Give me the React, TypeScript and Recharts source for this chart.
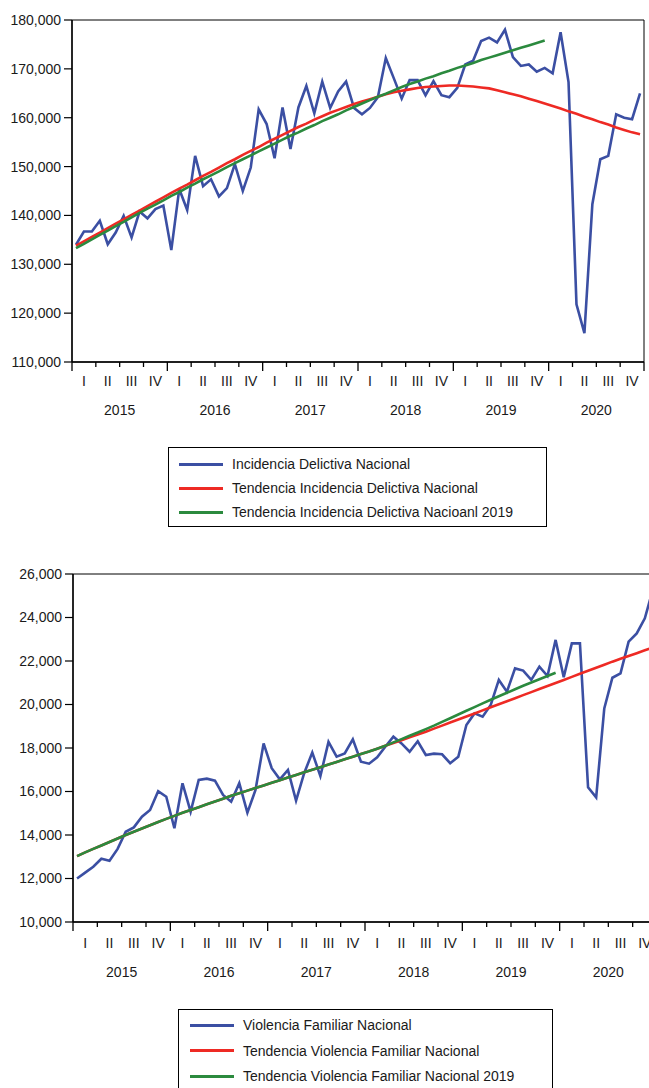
import { LineChart, Line, XAxis, YAxis, ReferenceArea, Legend } from "recharts";

const years = [2015, 2016, 2017, 2018, 2019, 2020];
const quarters = ["I", "II", "III", "IV"];

// Incidencia delictiva, monthly, Jan 2015 .. Dec 2020
const incidencia = [
    134000, 136700, 136700, 138900, 134100, 136500, 139900, 135500, 140800, 139400, 141300, 142000,
    132900, 145400, 141100, 152200, 146000, 147400, 143900, 145600, 150500, 145000, 149800, 161700,
    158700, 151700, 162100, 153600, 162100, 166500, 160900, 167400, 162000, 165400, 167400, 162000,
    160700, 162000, 164200, 172200, 168100, 163900, 167700, 167700, 164600, 167500, 164600, 164200,
    166100, 170900, 171700, 175700, 176400, 175400, 178000, 172400, 170600, 170900, 169400, 170200,
    169100, 177500, 167300, 121800, 115900, 142300, 151500, 152200, 160700, 160000, 159700, 165000,
];
const tendIncidencia = [
    133800, 134700, 135600, 136500, 137400, 138300, 139200, 140100, 141000, 141900, 142800, 143700,
    144600, 145500, 146300, 147200, 148100, 148900, 149800, 150700, 151500, 152400, 153200, 154000,
    154900, 155700, 156500, 157300, 158100, 158800, 159600, 160300, 161000, 161600, 162200, 162800,
    163300, 163800, 164300, 164800, 165200, 165500, 165800, 166100, 166300, 166400, 166500, 166600,
    166600, 166500, 166400, 166200, 166000, 165600, 165200, 164800, 164400, 163900, 163400, 162900,
    162400, 161900, 161300, 160800, 160200, 159700, 159100, 158600, 158000, 157500, 157000, 156600,
];
const tendIncidencia2019 = [
    133300, 134200, 135100, 136000, 136900, 137800, 138700, 139600, 140500, 141400, 142200, 143100,
    144000, 144800, 145700, 146500, 147400, 148200, 149000, 149900, 150700, 151500, 152300, 153100,
    153900, 154700, 155500, 156300, 157000, 157800, 158500, 159300, 160000, 160700, 161500, 162200,
    162900, 163600, 164300, 164900, 165600, 166300, 166900, 167400, 168000, 168500, 169100, 169600,
    170200, 170700, 171200, 171800, 172300, 172800, 173300, 173800, 174300, 174800, 175300, 175800,
];

// Violencia familiar, monthly, Jan 2015 .. Dec 2020
const violencia = [
    12000, 12270, 12540, 12910, 12820, 13360, 14150, 14350, 14840, 15150, 16010, 15760,
    14310, 16380, 15070, 16530, 16590, 16500, 15840, 15530, 16380, 15030, 16070, 18210,
    17070, 16560, 16990, 15580, 16840, 17790, 16710, 18280, 17600, 17750, 18400, 17370,
    17280, 17570, 18060, 18520, 18210, 17830, 18310, 17680, 17740, 17710, 17300, 17600,
    19060, 19590, 19440, 19980, 21130, 20590, 21660, 21560, 21130, 21740, 21310, 22970,
    21250, 22810, 22810, 16190, 15730, 19820, 21230, 21430, 22890, 23270, 23960, 25300,
];
const tendViolencia = [
    13030, 13200, 13360, 13520, 13680, 13840, 14000, 14150, 14300, 14450, 14600, 14740,
    14880, 15020, 15150, 15280, 15410, 15540, 15670, 15800, 15920, 16040, 16160, 16280,
    16400, 16520, 16640, 16760, 16880, 17000, 17120, 17240, 17360, 17480, 17600, 17720,
    17840, 17970, 18100, 18230, 18360, 18490, 18620, 18750, 18890, 19030, 19170, 19310,
    19450, 19590, 19730, 19870, 20010, 20150, 20290, 20430, 20570, 20710, 20850, 20990,
    21130, 21270, 21410, 21550, 21690, 21830, 21970, 22100, 22230, 22360, 22490, 22620,
];
const tendViolencia2019 = [
    13030, 13200, 13360, 13520, 13680, 13840, 14000, 14150, 14300, 14450, 14600, 14740,
    14880, 15020, 15150, 15280, 15410, 15540, 15670, 15800, 15920, 16040, 16160, 16280,
    16400, 16520, 16640, 16760, 16880, 17000, 17120, 17240, 17360, 17480, 17600, 17720,
    17840, 17970, 18100, 18260, 18410, 18560, 18710, 18870, 19030, 19200, 19370, 19540,
    19710, 19880, 20050, 20220, 20380, 20540, 20700, 20860, 21010, 21160, 21310, 21460,
];

const incidenciaTicks = [110000, 120000, 130000, 140000, 150000, 160000, 170000, 180000];
const violenciaTicks = [10000, 12000, 14000, 16000, 18000, 20000, 22000, 24000, 26000];
// half-quarter steps: boundaries get tick marks, mid-points get the quarter label
const periodTicks = Array.from({ length: 49 }, (_, k) => k * 1.5);

const BLUE = "#3b4fa3";
const RED = "#ee2a24";
const GREEN = "#2b8a3e";
const INK = "#1a1a1a";
const FONT = "'Liberation Sans', Arial, sans-serif";

const incidenciaRows = incidencia.map((v, i) => ({
    t: i + 0.5,
    real: v,
    trend: tendIncidencia[i],
    trend2019: tendIncidencia2019[i] ?? null,
}));
const violenciaRows = violencia.map((v, i) => ({
    t: i + 0.5,
    real: v,
    trend: tendViolencia[i],
    trend2019: tendViolencia2019[i] ?? null,
}));

function PeriodTick(props: any) {
    const { x, y, payload, qy, yy, yearLen } = props;
    const v = payload.value;
    if (v % 3 === 0) {
        return (
            <g>
                <line x1={x} x2={x} y1={y} y2={y + (v % 12 === 0 ? yearLen : 5)} stroke="#000" strokeWidth={1.3} />
                {v % 12 === 6 && (
                    <text x={x} y={y + yy} textAnchor="middle" fontSize={14} fill={INK} fontFamily={FONT}>
                        {years[(v - 6) / 12]}
                    </text>
                )}
            </g>
        );
    }
    return (
        <text x={x} y={y + qy} textAnchor="middle" fontSize={14} fill={INK} fontFamily={FONT}>
            {quarters[Math.floor(v / 3) % 4]}
        </text>
    );
}

function LegendBox(props: any) {
    const { payload, width, height, rowH, top, lineX, textX } = props;
    return (
        <div style={{ width, height, border: "1px solid #000", boxSizing: "border-box", background: "#fff", position: "relative" }}>
            {(payload || []).map((p: any, k: number) => (
                <div key={k} style={{ position: "absolute", left: 0, top: top + k * rowH - 9, height: 18, display: "flex", alignItems: "center" }}>
                    <div style={{ position: "absolute", left: lineX, width: 44, height: 3, background: p.color }} />
                    <span style={{ position: "absolute", left: textX, whiteSpace: "nowrap", fontSize: 14, color: INK, fontFamily: FONT, lineHeight: "18px" }}>
                        {p.value}
                    </span>
                </div>
            ))}
        </div>
    );
}

function SeriesChart(props: any) {
    const { rows, yTicks, yDomain, width, height, margin, yWidth, labels, qy, yy, legendPos, legendH, rowH, legendTop, lineX, textX } = props;
    return (
        <LineChart width={width} height={height} data={rows} margin={margin}>
            <ReferenceArea x1={0} x2={72} y1={yDomain[0]} y2={yDomain[1]} fill="none" stroke="#000" strokeWidth={1} />
            <XAxis
                type="number"
                dataKey="t"
                domain={[0, 72]}
                ticks={periodTicks}
                interval={0}
                height={60}
                tickSize={0}
                tickMargin={0}
                tickLine={false}
                axisLine={{ stroke: "#000", strokeWidth: 1.4 }}
                tick={(p: any) => <PeriodTick {...p} qy={qy} yy={yy} yearLen={9} />}
            />
            <YAxis
                type="number"
                domain={yDomain}
                ticks={yTicks}
                interval={0}
                width={yWidth}
                tickSize={8}
                tickMargin={3}
                axisLine={{ stroke: "#000", strokeWidth: 1.4 }}
                tickLine={{ stroke: "#000", strokeWidth: 1.2 }}
                tick={{ fill: INK, fontSize: 14, fontFamily: FONT }}
                tickFormatter={(v: number) => v.toLocaleString("en-US")}
            />
            <Legend
                layout="vertical"
                align="center"
                verticalAlign="middle"
                itemSorter="dataKey"
                wrapperStyle={{ left: legendPos[0], top: legendPos[1], width: legendPos[2], height: legendH }}
                content={(lp: any) => (
                    <LegendBox payload={lp.payload} width={legendPos[2]} height={legendH} rowH={rowH} top={legendTop} lineX={lineX} textX={textX} />
                )}
            />
            <Line type="linear" dataKey="real" name={labels[0]} stroke={BLUE} strokeWidth={2.6} dot={false} isAnimationActive={false} />
            <Line type="linear" dataKey="trend" name={labels[1]} stroke={RED} strokeWidth={2.6} dot={false} isAnimationActive={false} />
            <Line type="linear" dataKey="trend2019" name={labels[2]} stroke={GREEN} strokeWidth={2.6} dot={false} isAnimationActive={false} />
        </LineChart>
    );
}

export default function App() {
    return (
        <div style={{ position: "absolute", left: 0, top: 0, width: 649, height: 1088, overflow: "hidden", background: "#fff", fontFamily: FONT }}>
            <div style={{ position: "absolute", left: 0, top: 0 }}>
                <SeriesChart
                    rows={incidenciaRows}
                    yTicks={incidenciaTicks}
                    yDomain={[110000, 180000]}
                    width={649}
                    height={540}
                    margin={{ top: 20, right: 5, left: 0, bottom: 118 }}
                    yWidth={72}
                    labels={[
                        "Incidencia Delictiva Nacional",
                        "Tendencia Incidencia Delictiva Nacional",
                        "Tendencia Incidencia Delictiva Nacioanl 2019",
                    ]}
                    qy={24}
                    yy={53}
                    legendPos={[168, 447, 379]}
                    legendH={80}
                    rowH={24}
                    legendTop={16}
                    lineX={10}
                    textX={63}
                />
            </div>
            <div style={{ position: "absolute", left: 0, top: 550 }}>
                <SeriesChart
                    rows={violenciaRows}
                    yTicks={violenciaTicks}
                    yDomain={[10000, 26000]}
                    width={662}
                    height={538}
                    margin={{ top: 24, right: 5, left: 0, bottom: 106 }}
                    yWidth={73}
                    labels={[
                        "Violencia Familiar Nacional",
                        "Tendencia Violencia Familiar Nacional",
                        "Tendencia Violencia Familiar Nacional 2019",
                    ]}
                    qy={26}
                    yy={55}
                    legendPos={[178, 459, 375]}
                    legendH={88}
                    rowH={25.5}
                    legendTop={15}
                    lineX={11}
                    textX={64}
                />
            </div>
        </div>
    );
}
